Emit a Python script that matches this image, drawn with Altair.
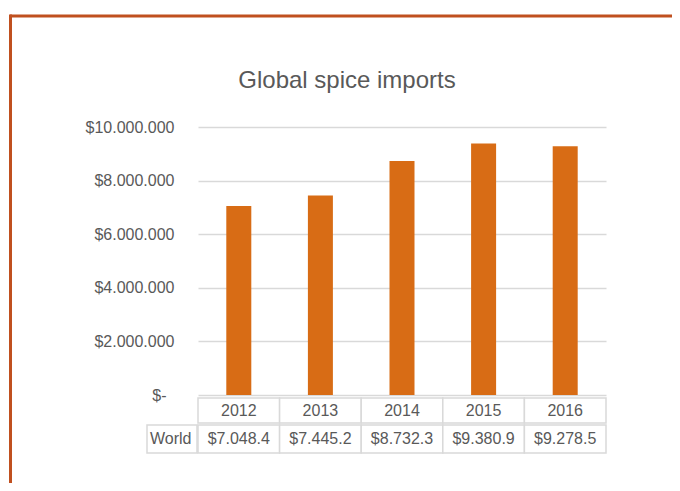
import altair as alt
import pandas as pd

years = ["2012", "2013", "2014", "2015", "2016"]
imports_thousands = [7048.4, 7445.2, 8732.3, 9380.9, 9278.5]
row_label = "World"
title_text = "Global spice imports"
y_ticks = [0, 2000000, 4000000, 6000000, 8000000, 10000000]

FONT = "Liberation Sans, Arial, sans-serif"
TXT = "#595959"
GRID = "#D9D9D9"
BAR = "#D86C15"
FRAME = "#C0501F"

df = pd.DataFrame({
    "year": years,
    "value": [v * 1000 for v in imports_thousands],
    "label": ["$" + f"{v:,.1f}".replace(",", ".") for v in imports_thousands],
})

W, H = 408, 268

def xenc(**kw):
    return alt.X("year:N", sort=years, scale=alt.Scale(paddingInner=0, paddingOuter=0), axis=None, **kw)

label_expr = (
    "datum.value == 0 ? '$-' : '$' + "
    "replace(replace(replace(format(datum.value, ','), ',', '.'), ',', '.'), ',', '.')"
)

bars = alt.Chart(df).mark_bar(color=BAR, size=25).encode(
    x=xenc(),
    y=alt.Y(
        "value:Q",
        scale=alt.Scale(domain=[0, 10000000], nice=False),
        axis=alt.Axis(
            values=y_ticks, title=None, labelExpr=label_expr, domain=False, ticks=False,
            labelPadding={"condition": {"test": "datum.value == 0", "value": 32}, "value": 24},
            labelFont=FONT, labelFontSize=16, labelColor=TXT,
            gridColor=GRID, gridWidth=1.5,
        ),
    ),
)

cell_style = dict(fill="white", stroke=GRID, strokeWidth=1.5)
head_cells = alt.Chart(df).mark_rect(**cell_style).encode(
    x=xenc(), y=alt.value(H + 3), y2=alt.value(H + 28)
)
row_cells = alt.Chart(df).mark_rect(**cell_style).encode(
    x=xenc(), y=alt.value(H + 30), y2=alt.value(H + 58)
)
world_df = pd.DataFrame({"t": [row_label]})
world_cell = alt.Chart(world_df).mark_rect(**cell_style).encode(
    x=alt.value(-51), x2=alt.value(-1), y=alt.value(H + 30), y2=alt.value(H + 58)
)

txt_style = dict(font=FONT, fontSize=16, color=TXT, baseline="middle")
head_text = alt.Chart(df).mark_text(**txt_style).encode(
    x=xenc(bandPosition=0.5), y=alt.value(H + 16), text="year:N"
)
row_text = alt.Chart(df).mark_text(**txt_style).encode(
    x=xenc(bandPosition=0.5), y=alt.value(H + 44), text="label:N"
)
world_text = alt.Chart(world_df).mark_text(align="left", **txt_style).encode(
    x=alt.value(-48), y=alt.value(H + 44), text="t:N"
)

title_mark = alt.Chart(pd.DataFrame({"t": [title_text]})).mark_text(
    font=FONT, fontSize=24, color=TXT, baseline="alphabetic", align="center"
).encode(x=alt.value(149), y=alt.value(-39), text="t:N")

frame_df = pd.DataFrame({"k": [0]})
frame_top = alt.Chart(frame_df).mark_rule(color=FRAME, strokeWidth=3).encode(
    x=alt.value(-188), x2=alt.value(480), y=alt.value(-111)
)
frame_left = alt.Chart(frame_df).mark_rule(color=FRAME, strokeWidth=3).encode(
    x=alt.value(-187.5), y=alt.value(-112.5), y2=alt.value(H + 100)
)

chart = alt.layer(
    bars, head_cells, row_cells, world_cell, head_text, row_text, world_text,
    title_mark, frame_top, frame_left
).properties(
    width=W, height=H,
    autosize=alt.AutoSizeParams(type="none"),
    padding={"left": 190, "top": 119, "right": 66, "bottom": 88},
).configure(background="white").configure_view(stroke=None)

chart.save("out.html", embed_options={"renderer": "svg", "actions": False})
